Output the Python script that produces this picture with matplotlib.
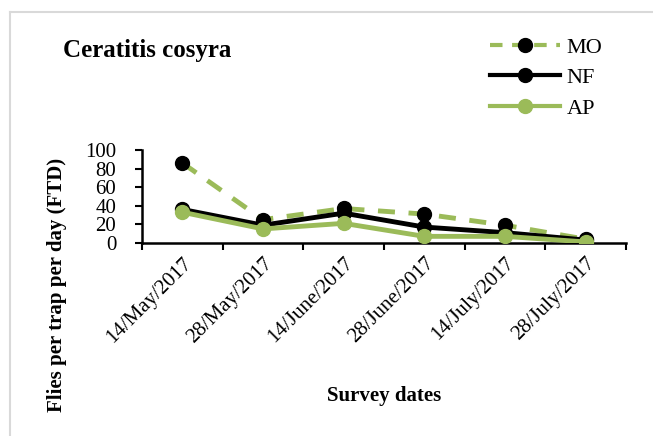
import matplotlib.pyplot as plt
from matplotlib.lines import Line2D
from matplotlib.transforms import ScaledTranslation

dates = ["14/May/2017", "28/May/2017", "14/June/2017", "28/June/2017",
         "14/July/2017", "28/July/2017"]
mo = [86, 25, 37, 31, 19, 4]
nf = [36, 19, 32, 17, 11, 3]
ap = [33, 15, 21, 7, 7, 1]

green = "#9BBB59"
plt.rcParams["font.family"] = ["Liberation Serif", "DejaVu Serif"]

fig = plt.figure(figsize=(6.53, 4.36), dpi=100)
ax = fig.add_axes([0.2175, 0.443, 0.741, 0.213])

x = list(range(len(dates)))
ax.plot(x, mo, color=green, lw=3.5, ls=(0, (3.5, 2.8)), marker="o", ms=10,
        mfc="black", mec="black", zorder=2)
ax.plot(x, nf, color="black", lw=3.5, marker="o", ms=10, zorder=3)
ax.plot(x, ap, color=green, lw=3.5, marker="o", ms=10, zorder=4)

ax.set_xlim(-0.5, len(dates) - 0.5)
ax.set_ylim(0, 100)
ax.set_yticks(range(0, 101, 20))
ax.set_xticks([i - 0.5 for i in range(len(dates) + 1)], minor=False)
ax.set_xticklabels([])
ax.set_xticks(x, minor=True)
ax.set_xticklabels(dates, minor=True, rotation=45, ha="right",
                   rotation_mode="anchor", fontsize=15)
shift = ScaledTranslation(0.04, -0.08, fig.dpi_scale_trans)
for lbl in ax.get_xticklabels(minor=True):
    lbl.set_transform(lbl.get_transform() + shift)
ax.tick_params(axis="x", which="minor", length=0, pad=8)
ax.tick_params(axis="x", which="major", length=5, width=1.5, direction="out")
ax.tick_params(axis="y", labelsize=15, length=5, width=1.5, pad=13.5)
for s in ["top", "right"]:
    ax.spines[s].set_visible(False)
for s in ["left", "bottom"]:
    ax.spines[s].set_linewidth(1.8)

fig.text(0.088, 0.346, "Flies per trap per day (FTD)", rotation=90,
         ha="center", va="center", fontsize=15, fontweight="bold")
fig.text(0.588, 0.092, "Survey dates", ha="center", va="center",
         fontsize=15, fontweight="bold")
fig.text(0.0965, 0.869, "Ceratitis cosyra", fontsize=18, fontweight="bold",
         va="baseline")

handles = [
    Line2D([], [], color=green, lw=3, ls=(0, (3, 2.3)), marker="o", ms=10,
           mfc="black", mec="black"),
    Line2D([], [], color="black", lw=3, marker="o", ms=10),
    Line2D([], [], color=green, lw=3, marker="o", ms=10),
]
fig.legend(handles, ["MO", "NF", "AP"], loc="upper left",
           bbox_to_anchor=(490 / 653, 1 - 37 / 436), frameon=False,
           fontsize=16, handlelength=3.15, labelspacing=0.45,
           handletextpad=0.3, borderpad=0, borderaxespad=0)

fig.add_artist(Line2D([0.0153, 0.0153], [0, 1 - 12 / 436], color="#d9d9d9",
                      lw=1.5, transform=fig.transFigure))
fig.add_artist(Line2D([0.0153, 1], [1 - 12 / 436, 1 - 12 / 436],
                      color="#d9d9d9", lw=1.5, transform=fig.transFigure))

fig.savefig("out.png", dpi=100)
